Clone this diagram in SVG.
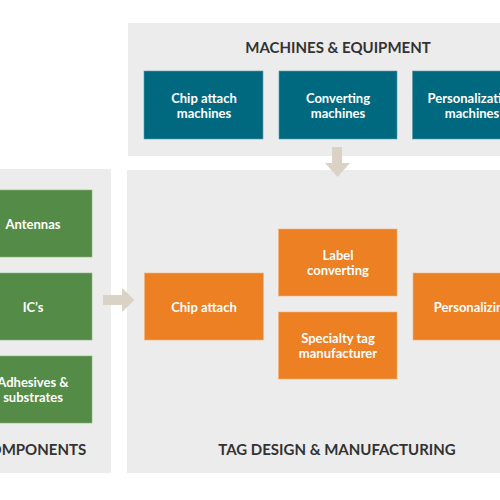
<svg xmlns="http://www.w3.org/2000/svg" width="500" height="500" viewBox="0 0 500 500">
<style>
.panel{fill:#ececec}
.title{font-family:Lato,"Open Sans","Liberation Sans",sans-serif;font-weight:bold;font-size:15px;fill:#333;text-anchor:middle}
.lbl{font-family:Lato,"Open Sans","Liberation Sans",sans-serif;font-weight:bold;font-size:13px;fill:#fff;text-anchor:middle}
.teal{fill:#00697f;stroke:#5d9aa8;stroke-width:0.6}
.green{fill:#548b47;stroke:#8db383;stroke-width:0.6}
.orange{fill:#ec8023;stroke:#f3b27a;stroke-width:0.6}
.arrow{fill:#dad2c5}
</style>
<rect width="500" height="500" fill="#fff"/>
<g id="panel-machines">
<rect class="panel" x="128" y="23" width="372" height="133"/>
<text class="title" x="338" y="53">MACHINES &amp; EQUIPMENT</text>
</g>
<g id="panel-components">
<rect class="panel" x="0" y="169" width="111" height="304"/>
<text class="title" x="33" y="455">COMPONENTS</text>
</g>
<g id="panel-tag">
<rect class="panel" x="127" y="170" width="373" height="303"/>
<text class="title" x="337" y="455">TAG DESIGN &amp; MANUFACTURING</text>
</g>
<g id="connectors">
<polygon class="arrow" points="332,147 342,147 342,163 350,163 337.5,177 325,163 332,163"/>
<polygon class="arrow" points="103,295 122,295 122,288 134.5,300 122,312 122,305 103,305"/>
</g>
<g id="chip-attach-machines">
<rect class="teal" x="144" y="71" width="119" height="68"/>
<text class="lbl" x="204" y="103">Chip attach</text>
<text class="lbl" x="204" y="118">machines</text>
</g>
<g id="converting-machines">
<rect class="teal" x="279" y="71" width="118" height="68"/>
<text class="lbl" x="338" y="103">Converting</text>
<text class="lbl" x="338" y="118">machines</text>
</g>
<g id="personalization-machines">
<rect class="teal" x="412.5" y="71" width="119" height="68"/>
<text class="lbl" x="472" y="103">Personalization</text>
<text class="lbl" x="472" y="118">machines</text>
</g>
<g id="antennas">
<rect class="green" x="-27" y="190" width="119" height="67"/>
<text class="lbl" x="33" y="229">Antennas</text>
</g>
<g id="ics">
<rect class="green" x="-27" y="273" width="119" height="67"/>
<text class="lbl" x="33" y="312">IC’s</text>
</g>
<g id="adhesives">
<rect class="green" x="-27" y="356" width="119" height="67"/>
<text class="lbl" x="33" y="387">Adhesives &amp;</text>
<text class="lbl" x="33" y="402">substrates</text>
</g>
<g id="chip-attach">
<rect class="orange" x="144.5" y="273" width="119" height="67"/>
<text class="lbl" x="204" y="312">Chip attach</text>
</g>
<g id="label-converting">
<rect class="orange" x="278.5" y="229" width="118.5" height="67"/>
<text class="lbl" x="338" y="260">Label</text>
<text class="lbl" x="338" y="275">converting</text>
</g>
<g id="specialty-tag">
<rect class="orange" x="278.5" y="312" width="118.5" height="67"/>
<text class="lbl" x="338" y="343">Specialty tag</text>
<text class="lbl" x="338" y="358">manufacturer</text>
</g>
<g id="personalizing">
<rect class="orange" x="413" y="273" width="119" height="67"/>
<text class="lbl" x="472" y="312">Personalizing</text>
</g>
</svg>
